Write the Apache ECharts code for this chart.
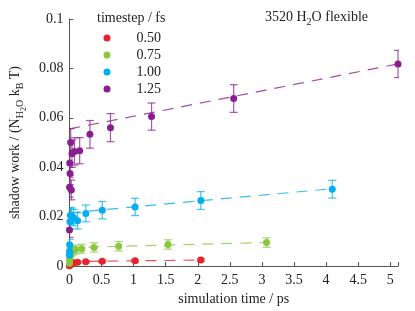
<!DOCTYPE html>
<html>
<head>
<meta charset="utf-8">
<script src="https://cdn.jsdelivr.net/npm/echarts@6/dist/echarts.min.js"></script>
<style>html,body{margin:0;padding:0;background:#fff}#c{width:415px;height:311px}</style>
</head>
<body>
<div id="c"></div>
<script>
// timestep 0.50 fs
const xRed = [0.001, 0.002, 0.004, 0.008, 0.016, 0.032, 0.064, 0.128, 0.256, 0.512, 1.024, 2.048];
const yRed = [0.0001, 0.0003, 0.0005, 0.0007, 0.0009, 0.0011, 0.0013, 0.0015, 0.0017, 0.0019, 0.0021, 0.0024];
const eRed = [0.0003, 0.0003, 0.0003, 0.0003, 0.0003, 0.0004, 0.0004, 0.0004, 0.0004, 0.0004, 0.0005, 0.0005];
// timestep 0.75 fs
const xGreen = [0.0015, 0.003, 0.006, 0.012, 0.024, 0.048, 0.096, 0.192, 0.384, 0.768, 1.536, 3.072];
const yGreen = [0.0011, 0.0024, 0.0044, 0.0052, 0.0057, 0.0062, 0.0066, 0.0070, 0.0075, 0.0080, 0.0087, 0.0095];
const eGreen = [0.0010, 0.0012, 0.0014, 0.0016, 0.0017, 0.0018, 0.0018, 0.0018, 0.0019, 0.0019, 0.0019, 0.0019];
// timestep 1.00 fs
const xBlue = [0.001, 0.002, 0.004, 0.008, 0.016, 0.032, 0.064, 0.128, 0.256, 0.512, 1.024, 2.048, 4.096];
const yBlue = [0.0044, 0.0060, 0.0086, 0.0179, 0.0205, 0.0202, 0.0196, 0.0183, 0.0213, 0.0226, 0.0239, 0.0265, 0.0311];
const eBlue = [0.0018, 0.0020, 0.0022, 0.0030, 0.0032, 0.0032, 0.0033, 0.0033, 0.0034, 0.0035, 0.0035, 0.0036, 0.0036];
// timestep 1.25 fs
const xPurple = [0.001, 0.003, 0.03, 0.01, 0.005, 0.02, 0.04, 0.08, 0.16, 0.32, 0.64, 1.28, 2.56, 5.12];
const yPurple = [0.0146, 0.0319, 0.0308, 0.0374, 0.0417, 0.0500, 0.0455, 0.0464, 0.0467, 0.0533, 0.0560, 0.0605, 0.0678, 0.0818];
const ePurple = [0.0030, 0.0040, 0.0040, 0.0045, 0.0050, 0.0056, 0.0055, 0.0055, 0.0053, 0.0056, 0.0057, 0.0055, 0.0056, 0.0055];
// dashed linear fits: [x, y] endpoints
const fitRed = [[0, 0.0018], [2.048, 0.0024]];
const fitGreen = [[0, 0.0074], [3.072, 0.0095]];
const fitBlue = [[0, 0.0215], [4.096, 0.0313]];
const fitPurple = [[0, 0.0555], [5.12, 0.0818]];
const seriesNames = ['0.50', '0.75', '1.00', '1.25'];
const xTicks = {min: 0, max: 5.12, interval: 0.5};
const yTicks = {min: 0, max: 0.1, interval: 0.02};

const colors = ['#e8212b', '#8cc63f', '#00aeef', '#8b1e8e'];
const groups = [
  [xRed, yRed, eRed, fitRed],
  [xGreen, yGreen, eGreen, fitGreen],
  [xBlue, yBlue, eBlue, fitBlue],
  [xPurple, yPurple, ePurple, fitPurple]
];
const font = 'Liberation Serif';

function errItem(color) {
  return function (params, api) {
    const x = api.value(0), y = api.value(1), e = api.value(2);
    const t = api.coord([x, y + e]);
    const b = api.coord([x, y - e]);
    const hw = 4;
    const st = {stroke: color, lineWidth: 1.2, opacity: 0.75};
    return {
      type: 'group',
      children: [
        {type: 'line', shape: {x1: t[0], y1: t[1], x2: b[0], y2: b[1]}, style: st},
        {type: 'line', shape: {x1: t[0] - hw, y1: t[1], x2: t[0] + hw, y2: t[1]}, style: st},
        {type: 'line', shape: {x1: b[0] - hw, y1: b[1], x2: b[0] + hw, y2: b[1]}, style: st}
      ]
    };
  };
}

const series = [];
groups.forEach((g, i) => {
  const [xs, ys, es, fit] = g;
  series.push({
    name: 'fit ' + seriesNames[i], type: 'line', data: fit, symbol: 'none', silent: true,
    lineStyle: {color: colors[i], width: 1.2, type: [11, 8], opacity: 0.8}, z: 1
  });
  series.push({
    name: 'err ' + seriesNames[i], type: 'custom', clip: true, silent: true,
    data: xs.map((x, k) => [x, ys[k], es[k]]),
    encode: {x: 0, y: 1}, renderItem: errItem(colors[i]), z: 2
  });
});
groups.forEach((g, i) => {
  const [xs, ys] = g;
  series.push({
    name: seriesNames[i], type: 'scatter', symbol: 'circle', symbolSize: 7,
    data: xs.map((x, k) => [x, ys[k]]), itemStyle: {color: colors[i], opacity: 1}, z: 3
  });
});

const chart = echarts.init(document.getElementById('c'), null, {renderer: 'canvas'});
chart.setOption({
  animation: false,
  backgroundColor: '#fff',
  color: colors,
  textStyle: {fontFamily: font},
  title: [
    {text: 'timestep / fs', left: 97, top: 11, textStyle: {fontFamily: font, fontSize: 14, fontWeight: 'normal', color: '#222'}, padding: 0},
    {text: '{a|3520 H}{s|2}{a|O flexible}', left: 265, top: 10, padding: 0,
     textStyle: {fontFamily: font, fontSize: 14, fontWeight: 'normal', color: '#222',
       rich: {a: {fontFamily: font, fontSize: 14, lineHeight: 14, color: '#222', verticalAlign: 'top'},
              s: {fontFamily: font, fontSize: 10, lineHeight: 10, color: '#222', verticalAlign: 'top', padding: [7, 0, 0, 0]}}}}
  ],
  legend: {
    data: seriesNames, orient: 'vertical', left: 103.5, top: 31, icon: 'circle',
    itemWidth: 7, itemHeight: 7, itemGap: 3, padding: 0, selectedMode: false,
    textStyle: {fontFamily: font, fontSize: 14, lineHeight: 14, color: '#222', padding: [0, 0, 0, 21]}
  },
  grid: {left: 64, right: 17, top: 19, bottom: 40, containLabel: false},
  xAxis: {
    type: 'value', min: xTicks.min, max: xTicks.max, interval: xTicks.interval,
    name: 'simulation time / ps', nameLocation: 'middle', nameGap: 26,
    nameTextStyle: {fontFamily: font, fontSize: 14, color: '#222'},
    axisLine: {lineStyle: {color: '#555', width: 1}},
    axisTick: {inside: true, length: 4, lineStyle: {color: '#555'}},
    axisLabel: {fontFamily: font, fontSize: 14, color: '#222', margin: 7,
      formatter: v => (Math.abs(v * 2 - Math.round(v * 2)) < 1e-6 ? String(+v.toFixed(1)) : '')},
    splitLine: {show: false}
  },
  yAxis: {
    type: 'value', min: yTicks.min, max: yTicks.max, interval: yTicks.interval,
    name: '{a|shadow work / (N}{s|H}{ss|2}{s|O}{a| k}{s|B}{a| T)}',
    nameLocation: 'middle', nameRotate: 90, nameGap: 42,
    nameTextStyle: {fontFamily: font, fontSize: 14, color: '#222',
      rich: {
        a: {fontFamily: font, fontSize: 14, lineHeight: 14, color: '#222', verticalAlign: 'top'},
        s: {fontFamily: font, fontSize: 10, lineHeight: 10, color: '#222', verticalAlign: 'top', padding: [7, 0, 0, 0]},
        ss: {fontFamily: font, fontSize: 8, lineHeight: 8, color: '#222', verticalAlign: 'top', padding: [12, 0, 0, 0]}
      }},
    axisLine: {lineStyle: {color: '#555', width: 1}},
    axisTick: {inside: true, length: 4, lineStyle: {color: '#555'}},
    axisLabel: {fontFamily: font, fontSize: 14, color: '#222', margin: 6,
      formatter: v => String(+v.toFixed(2))},
    splitLine: {show: false}
  },
  series: series
});
</script>
</body>
</html>
